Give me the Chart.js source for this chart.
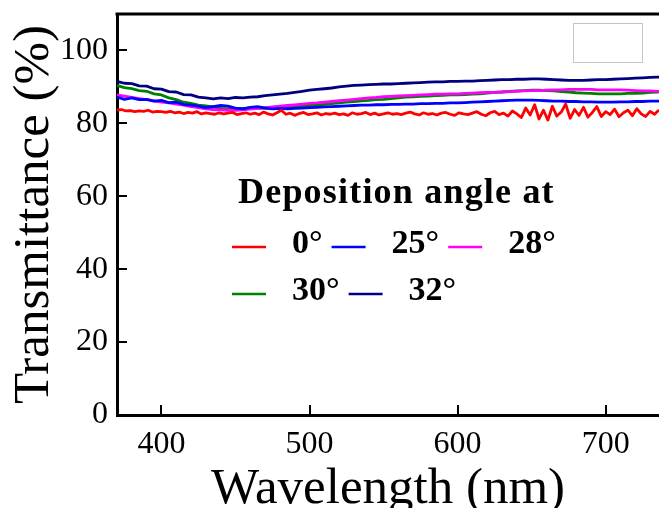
<!DOCTYPE html>
<html>
<head>
<meta charset="utf-8">
<script src="https://cdn.jsdelivr.net/npm/chart.js@4.4.0/dist/chart.umd.min.js"></script>
<style>
  html, body { margin: 0; padding: 0; background: #fff; overflow: hidden; }
  #wrap { width: 659px; height: 508px; }
</style>
</head>
<body>
<div id="wrap"><canvas id="trans-chart" width="659" height="508"></canvas></div>
<script>
// ─── Data ───────────────────────────────────────────────────

const SERIF = "'Liberation Serif', 'Times New Roman', serif";

const angleLabels = ['0°', '25°', '28°', '30°', '32°'];
const angleColors = ['#ff0000', '#0000ff', '#ff00ff', '#008000', '#000080'];
const legendTitle = 'Deposition angle at';

const xTicks = [400, 500, 600, 700];
const yTicks = [0, 20, 40, 60, 80, 100];

// 5 nm sampling for the smooth spectra
const waveCoarse = [
  370, 375, 380, 385, 390, 395, 400, 405, 410, 415,
  420, 425, 430, 435, 440, 445, 450, 455, 460, 465,
  470, 475, 480, 485, 490, 495, 500, 505, 510, 515,
  520, 525, 530, 535, 540, 545, 550, 555, 560, 565,
  570, 575, 580, 585, 590, 595, 600, 605, 610, 615,
  620, 625, 630, 635, 640, 645, 650, 655, 660, 665,
  670, 675, 680, 685, 690, 695, 700, 705, 710, 715,
  720, 725, 730, 735, 740,
];

// 3 nm sampling for the noisy 0° spectrum
const waveFine = [
  370, 373, 376, 379, 382, 385, 388, 391, 394, 397,
  400, 403, 406, 409, 412, 415, 418, 421, 424, 427,
  430, 433, 436, 439, 442, 445, 448, 451, 454, 457,
  460, 463, 466, 469, 472, 475, 478, 481, 484, 487,
  490, 493, 496, 499, 502, 505, 508, 511, 514, 517,
  520, 523, 526, 529, 532, 535, 538, 541, 544, 547,
  550, 553, 556, 559, 562, 565, 568, 571, 574, 577,
  580, 583, 586, 589, 592, 595, 598, 601, 604, 607,
  610, 613, 616, 619, 622, 625, 628, 631, 634, 637,
  640, 643, 646, 649, 652, 655, 658, 661, 664, 667,
  670, 673, 676, 679, 682, 685, 688, 691, 694, 697,
  700, 703, 706, 709, 712, 715, 718, 721, 724, 727,
  730, 733, 736, 739,
];

const t0 = [
  83.6, 83.8, 83.4, 83.5, 83.2, 83.4, 83.3, 83.6, 83.1, 83.3,
  83.2, 83.0, 83.3, 82.9, 83.1, 82.7, 83.0, 82.8, 83.2, 82.6,
  82.9, 82.7, 82.5, 82.9, 82.6, 82.8, 83.0, 82.4, 82.7, 82.9,
  82.5, 82.8, 82.4, 83.1, 82.6, 82.3, 82.9, 83.6, 82.5, 82.8,
  82.2, 82.7, 83.0, 82.4, 82.6, 82.9, 82.3, 82.7, 82.5, 82.8,
  82.4, 82.6, 82.2, 82.9, 82.5, 82.7, 83.0, 82.4, 82.8, 82.3,
  82.6, 82.9, 82.5, 82.7, 82.4, 82.8, 83.1, 82.6, 82.3, 82.9,
  82.5, 82.7, 82.3, 82.8, 83.0, 82.5, 82.2, 82.9, 82.6, 82.4,
  82.8, 83.2, 82.5, 82.1, 82.9, 83.3, 82.4, 82.8, 82.0, 83.4,
  82.6, 81.6, 84.2, 82.3, 85.1, 81.2, 83.6, 80.9, 84.7, 82.0,
  83.1, 85.3, 81.4, 83.8, 82.2, 84.4, 81.7, 83.0, 84.6, 81.9,
  83.2, 82.4, 83.9, 81.8, 82.9, 83.6, 82.1, 84.0, 82.6, 81.9,
  83.3, 82.5, 83.7, 82.8,
];

const t25 = [
  87.2, 86.6, 87.0, 86.5, 86.6, 86.1, 86.3, 85.7, 85.8, 85.2,
  85.0, 84.7, 84.3, 84.6, 84.9, 84.7, 84.2, 84.0, 84.4, 84.6,
  84.2, 84.0, 84.1, 84.0, 84.1, 84.2, 84.3, 84.4, 84.5, 84.6,
  84.7, 84.8, 84.9, 85.0, 85.0, 85.1, 85.1, 85.2, 85.2, 85.3,
  85.3, 85.4, 85.4, 85.5, 85.5, 85.6, 85.6, 85.7, 85.8, 85.9,
  86.0, 86.1, 86.2, 86.3, 86.4, 86.4, 86.4, 86.3, 86.2, 86.1,
  86.1, 86.0, 86.0, 85.9, 85.9, 85.8, 85.8, 85.8, 85.9, 85.9,
  86.0, 86.0, 86.1, 86.1, 86.1,
];

const t28 = [
  87.8, 87.5, 87.1, 86.8, 86.5, 86.2, 85.8, 85.6, 85.3, 85.0,
  84.6, 84.3, 84.0, 83.8, 83.7, 83.6, 83.6, 83.7, 83.9, 84.1,
  84.3, 84.5, 84.7, 84.9, 85.1, 85.3, 85.5, 85.6, 85.8, 86.0,
  86.2, 86.4, 86.6, 86.8, 87.0, 87.1, 87.3, 87.4, 87.5, 87.6,
  87.7, 87.8, 87.9, 88.0, 88.0, 88.1, 88.1, 88.2, 88.3, 88.4,
  88.5, 88.5, 88.6, 88.7, 88.8, 88.9, 89.0, 89.0, 89.1, 89.2,
  89.2, 89.3, 89.3, 89.3, 89.3, 89.2, 89.2, 89.2, 89.2, 89.1,
  89.0, 88.9, 88.9, 88.8, 88.8,
];

const t30 = [
  90.4, 89.8, 89.5, 89.0, 88.8, 88.1, 87.8, 87.0, 86.5, 85.8,
  85.5, 85.0, 84.8, 84.5, 84.1, 84.0, 84.0, 84.1, 84.2, 84.1,
  84.2, 84.2, 84.3, 84.3, 84.5, 84.7, 84.9, 85.0, 85.2, 85.4,
  85.6, 85.8, 86.0, 86.2, 86.3, 86.5, 86.6, 86.8, 87.0, 87.2,
  87.3, 87.4, 87.5, 87.6, 87.7, 87.8, 87.8, 87.9, 88.0, 88.1,
  88.3, 88.5, 88.6, 88.8, 88.9, 89.0, 89.1, 89.1, 89.0, 88.9,
  88.7, 88.6, 88.4, 88.3, 88.2, 88.1, 88.1, 88.1, 88.1, 88.2,
  88.2, 88.3, 88.5, 88.6, 88.7,
];

const t32 = [
  91.5, 91.0, 90.9, 90.3, 90.2, 89.5, 89.4, 88.7, 88.6, 87.9,
  87.8, 87.2, 87.0, 86.7, 87.0, 86.8, 87.1, 87.0, 87.2, 87.3,
  87.6, 87.8, 88.0, 88.2, 88.5, 88.8, 89.1, 89.3, 89.5, 89.7,
  90.0, 90.2, 90.4, 90.5, 90.6, 90.7, 90.8, 90.8, 90.9, 91.0,
  91.1, 91.2, 91.3, 91.4, 91.4, 91.5, 91.5, 91.6, 91.6, 91.7,
  91.8, 91.9, 92.0, 92.0, 92.1, 92.1, 92.2, 92.2, 92.1, 92.0,
  91.9, 91.8, 91.8, 91.8, 91.9, 92.0, 92.0, 92.1, 92.2, 92.3,
  92.4, 92.5, 92.6, 92.7, 92.7,
];

// ─── Helpers ────────────────────────────────────────────────

function pairs(xs, ys) {
  return ys.map((y, i) => ({ x: xs[i], y }));
}

function spectrum(i, xs, ys) {
  return {
    label: angleLabels[i],
    data: pairs(xs, ys),
    borderColor: angleColors[i],
    backgroundColor: angleColors[i],
    borderWidth: 2.8,
    pointRadius: 0,
    tension: 0,
    borderJoinStyle: 'round',
  };
}

// ─── Plugins ────────────────────────────────────────────────

// top edge, inward tick marks and the empty box in the corner
const framePlugin = {
  id: 'frame',
  afterDatasetsDraw(chart) {
    const { ctx, chartArea: a, scales } = chart;
    ctx.save();
    ctx.strokeStyle = '#000';
    ctx.lineWidth = 3;
    ctx.beginPath();
    ctx.moveTo(a.left - 1.5, a.top);
    ctx.lineTo(a.right + 2, a.top);
    ctx.stroke();

    ctx.lineWidth = 2;
    yTicks.forEach(v => {
      const y = Math.round(scales.y.getPixelForValue(v));
      ctx.beginPath();
      ctx.moveTo(a.left, y);
      ctx.lineTo(a.left + 10, y);
      ctx.stroke();
    });
    xTicks.forEach(v => {
      const x = Math.round(scales.x.getPixelForValue(v));
      ctx.beginPath();
      ctx.moveTo(x, a.bottom);
      ctx.lineTo(x, a.bottom - 10);
      ctx.stroke();
    });

    ctx.strokeStyle = '#c4c4c4';
    ctx.lineWidth = 1;
    ctx.strokeRect(573.5, a.top + 9.5, 69, 39);
    ctx.restore();
  },
};

// "Deposition angle at" block with two rows of samples
const legendRows = [[0, 1, 2], [3, 4]];

const anglePlugin = {
  id: 'angleLegend',
  afterDraw(chart) {
    const { ctx } = chart;
    const sets = chart.data.datasets;
    ctx.save();
    ctx.fillStyle = '#000';
    ctx.textBaseline = 'alphabetic';
    ctx.font = `bold 36px ${SERIF}`;
    ctx.letterSpacing = '1.2px';
    ctx.fillText(legendTitle, 238, 203);
    ctx.letterSpacing = '0px';

    ctx.font = `bold 34px ${SERIF}`;
    const rowBase = [253, 300];
    legendRows.forEach((row, r) => {
      let x = 232;
      row.forEach(i => {
        const ds = sets[i];
        ctx.strokeStyle = ds.borderColor;
        ctx.lineWidth = 2.5;
        ctx.beginPath();
        ctx.moveTo(x, rowBase[r] - 6);
        ctx.lineTo(x + 34, rowBase[r] - 6);
        ctx.stroke();
        ctx.fillText(ds.label, x + 60, rowBase[r]);
        x += 60 + ctx.measureText(ds.label).width + 9;
      });
    });
    ctx.restore();
  },
};

// ─── Chart ──────────────────────────────────────────────────

const axisFont = { family: SERIF, size: 32 };

new Chart(document.getElementById('trans-chart'), {
  type: 'line',
  data: {
    datasets: [
      spectrum(0, waveFine, t0),
      spectrum(1, waveCoarse, t25),
      spectrum(2, waveCoarse, t28),
      spectrum(3, waveCoarse, t30),
      spectrum(4, waveCoarse, t32),
    ],
  },
  options: {
    responsive: false,
    animation: false,
    devicePixelRatio: 1,
    layout: { padding: { top: 14, right: 0, left: 0, bottom: 0 } },
    plugins: {
      legend: { display: false },
      tooltip: { enabled: false },
    },
    scales: {
      x: {
        type: 'linear',
        min: 370,
        max: 736,
        afterBuildTicks: s => { s.ticks = xTicks.map(v => ({ value: v })); },
        afterFit: s => { s.height = 93; s.paddingLeft = 0; s.paddingRight = 0; },
        ticks: { font: axisFont, color: '#000', padding: 10, maxRotation: 0 },
        grid: { display: true, drawOnChartArea: false, drawTicks: false },
        border: { display: true, width: 3, color: '#000' },
        title: {
          display: true,
          text: 'Wavelength (nm)',
          color: '#000',
          font: { family: SERIF, size: 51 },
          padding: { top: 0, bottom: -12 },
        },
      },
      y: {
        min: 0,
        max: 110,
        afterBuildTicks: s => { s.ticks = yTicks.map(v => ({ value: v })); },
        afterFit: s => { s.width = 117; s.paddingTop = 0; s.paddingBottom = 0; },
        ticks: { font: axisFont, color: '#000', padding: 9 },
        grid: { display: true, drawOnChartArea: false, drawTicks: false },
        border: { display: true, width: 3, color: '#000' },
        title: {
          display: true,
          text: 'Transmittance (%)',
          color: '#000',
          font: { family: SERIF, size: 51 },
          padding: { top: 4, bottom: 0 },
        },
      },
    },
  },
  plugins: [framePlugin, anglePlugin],
});
</script>
</body>
</html>
